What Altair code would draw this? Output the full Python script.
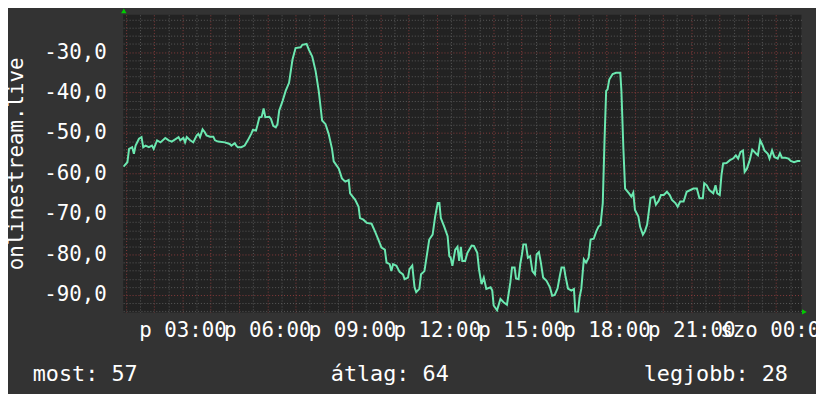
import altair as alt
import pandas as pd

# time of day in hours (Friday 00:00 = 0)
hours = [0.91, 1.05, 1.11, 1.22, 1.28, 1.34, 1.46, 1.55, 1.61, 1.69, 1.81, 1.92, 1.98, 2.10, 2.22, 2.39,
         2.51, 2.62, 2.86, 2.92, 3.03, 3.09, 3.15, 3.27, 3.38, 3.50, 3.56, 3.62, 3.71, 3.79, 3.85, 3.97,
         4.09, 4.15, 4.26, 4.50, 4.67, 4.73, 4.85, 4.90, 4.96, 5.08, 5.20, 5.31, 5.43, 5.49, 5.60, 5.66,
         5.72, 5.80, 5.87, 5.93, 6.07, 6.13, 6.21, 6.30, 6.36, 6.42, 6.54, 6.65, 6.77, 6.89, 7.00, 7.18,
         7.24, 7.39, 7.47, 7.59, 7.71, 7.82, 7.94, 8.06, 8.17, 8.29, 8.35, 8.53, 8.64, 8.76, 8.88, 8.93,
         9.11, 9.23, 9.28, 9.40, 9.52, 9.69, 9.81, 9.93, 10.04, 10.16, 10.22, 10.33, 10.39, 10.45, 10.57,
         10.68, 10.80, 10.86, 10.98, 11.03, 11.13, 11.21, 11.27, 11.38, 11.44, 11.56, 11.73, 11.85, 11.94,
         12.03, 12.09, 12.14, 12.26, 12.38, 12.44, 12.49, 12.55, 12.65, 12.73, 12.79, 12.85, 12.90, 13.00,
         13.08, 13.23, 13.31, 13.43, 13.49, 13.58, 13.66, 13.75, 13.90, 13.96, 14.01, 14.13, 14.25, 14.36,
         14.48, 14.60, 14.66, 14.75, 14.80, 14.89, 14.95, 15.01, 15.06, 15.15, 15.22, 15.30, 15.38, 15.47,
         15.53, 15.61, 15.68, 15.76, 15.88, 16.00, 16.08, 16.17, 16.27, 16.35, 16.41, 16.50, 16.55, 16.64,
         16.76, 16.85, 16.90, 16.99, 17.05, 17.11, 17.20, 17.28, 17.37, 17.44, 17.55, 17.64, 17.72, 17.79,
         17.87, 17.93, 17.99, 18.04, 18.10, 18.22, 18.34, 18.49, 18.53, 18.60, 18.66, 18.80, 18.88, 18.95,
         19.01, 19.13, 19.19, 19.29, 19.36, 19.44, 19.56, 19.68, 19.75, 19.85, 19.93, 20.03, 20.14, 20.24,
         20.32, 20.44, 20.52, 20.61, 20.73, 20.84, 21.08, 21.20, 21.29, 21.41, 21.46, 21.55, 21.64, 21.78,
         21.86, 21.92, 22.01, 22.07, 22.13, 22.25, 22.37, 22.48, 22.58, 22.66, 22.74, 22.83, 22.89, 22.97,
         23.07, 23.16, 23.30, 23.36, 23.44, 23.53, 23.59, 23.71, 23.77, 23.86, 23.94, 24.06, 24.14, 24.21,
         24.33, 24.44, 24.52, 24.64, 24.76, 24.86]

values = [-58.3, -57.2, -53.9, -53.5, -55.1, -53.1, -51.4, -51.0, -53.5, -53.1, -53.5, -53.1, -53.9, -51.8, -52.3, -51.2,
          -51.8, -52.1, -51.0, -51.8, -51.2, -52.3, -51.0, -51.8, -52.3, -50.6, -50.2, -51.0, -49.1, -49.8, -50.6, -50.9,
          -50.9, -51.8, -52.1, -52.3, -52.7, -53.1, -52.5, -53.1, -53.5, -53.5, -53.1, -51.8, -50.2, -49.2, -49.4, -47.8,
          -46.1, -46.0, -43.9, -46.1, -46.0, -46.5, -48.2, -48.6, -47.8, -44.5, -42.1, -39.6, -37.6, -31.9, -29.0, -28.8,
          -28.2, -28.0, -29.4, -31.1, -34.7, -39.6, -46.9, -47.8, -50.2, -53.9, -57.0, -58.8, -61.2, -62.0, -61.6, -64.9,
          -66.5, -68.2, -71.0, -71.4, -72.2, -72.4, -74.3, -76.3, -78.3, -78.8, -82.0, -82.4, -84.1, -82.4, -82.8,
          -84.3, -84.9, -86.1, -85.7, -83.6, -82.7, -88.1, -89.3, -88.5, -84.9, -84.1, -76.3, -75.1, -70.6,
          -67.3, -67.3, -71.0, -73.1, -75.5, -80.4, -80.8, -82.8, -78.8, -78.1, -81.6, -78.1, -81.6, -81.6,
          -79.6, -77.8, -77.9, -79.6, -83.6, -87.3, -85.7, -88.5, -88.1, -88.9, -92.6, -93.8, -91.0, -91.8,
          -92.4, -86.9, -83.2, -83.2, -85.9, -86.1, -82.4, -80.0, -77.5, -77.5, -80.8, -80.4, -84.1, -84.9,
          -80.0, -79.4, -82.0, -85.7, -86.5, -88.1, -90.2, -90.0, -88.4, -85.3, -83.2, -83.2, -85.3, -88.4,
          -88.9, -88.5, -94.2, -94.5, -90.6, -88.5, -81.2, -82.0, -80.8, -76.3, -76.1, -74.3, -73.1, -72.7,
          -67.3, -52.3, -39.6, -39.2, -36.8, -35.4, -35.1, -35.1, -39.6, -53.9, -63.7, -64.9, -65.7, -64.7,
          -69.0, -70.6, -73.1, -75.1, -74.3, -72.6, -66.1, -65.7, -67.7, -66.7, -65.3, -65.3, -64.5, -65.3,
          -66.5, -67.3, -68.2, -66.9, -66.9, -64.5, -63.7, -63.7, -66.1, -66.1, -62.4, -62.9, -64.1, -64.9,
          -62.9, -64.9, -65.3, -60.4, -57.5, -57.4, -56.7, -56.3, -55.5, -56.3, -54.7, -54.3, -59.6, -58.8,
          -56.7, -54.1, -55.1, -55.5, -51.8, -53.1, -54.3, -55.1, -56.3, -54.3, -55.9, -56.3, -55.0, -56.1,
          -56.1, -56.3, -56.9, -57.2, -56.9, -56.9]

x_domain = [0.9, 24.9]
y_domain = [-94.3, -20.8]
x_label_values = [3, 6, 9, 12, 15, 18, 21, 24]
x_major_grid = list(range(1, 25))
x_minor_grid = [h + 0.5 for h in range(0, 25)]
y_major_grid = [-90, -80, -70, -60, -50, -40, -30]
y_minor_grid = [v for v in range(-94, -20, 2) if v % 10 != 0]
y_title = "onlinestream.live"
legend_items = ["most: 57", "átlag: 64", "legjobb: 28"]

df = pd.DataFrame({"h": hours, "v": values})

FONT = "DejaVu Sans Mono"
FS = 21
LFS = 22
W, H = 685, 300.5

xs = alt.Scale(domain=x_domain, nice=False, zero=False)
ys = alt.Scale(domain=y_domain, nice=False, zero=False)


def grid_axis(vals, color, orient):
    return alt.Axis(values=vals, grid=True, gridColor=color, gridDash=[1, 2], gridWidth=1,
                    labels=False, ticks=False, domain=False, title=None, orient=orient)


base = alt.Chart(df)

minor = base.mark_line(opacity=0).encode(
    x=alt.X("h:Q", scale=xs, axis=grid_axis(x_minor_grid, "#5a5a5a", "bottom")),
    y=alt.Y("v:Q", scale=ys, axis=grid_axis(y_minor_grid, "#5a5a5a", "left")),
)

major = base.mark_line(opacity=0).encode(
    x=alt.X("h:Q", scale=xs, axis=grid_axis(x_major_grid, "#8a3c3c", "bottom")),
    y=alt.Y("v:Q", scale=ys, axis=grid_axis(y_major_grid, "#8a3c3c", "left")),
)

labels = base.mark_line(opacity=0).encode(
    x=alt.X("h:Q", scale=xs, axis=alt.Axis(
        values=x_label_values, grid=False, ticks=False, domain=False, title=None, orient="bottom",
        labelExpr="(datum.value < 24 ? 'p ' : 'szo ') + format(datum.value % 24, '02d') + ':00'",
        labelFont=FONT, labelFontSize=FS, labelColor="#ffffff", labelPadding=7,
        labelOverlap=False, labelFlush=False, labelBound=False)),
    y=alt.Y("v:Q", scale=ys, axis=alt.Axis(
        values=y_major_grid, grid=False, ticks=False, domain=False, orient="left",
        labelExpr="'-' + replace(format(abs(datum.value), '.1f'), '.', ',')",
        labelFont=FONT, labelFontSize=FS, labelColor="#ffffff", labelPadding=17,
        labelOverlap=False, labelFlush=False,
        title=y_title, titleFont=FONT, titleFontSize=FS, titleFontWeight="normal", titleColor="#ffffff",
        titleX=-102, titleY=150, titleAngle=270, titleAlign="center", titleBaseline="alphabetic")),
)

line = base.mark_line(color="#6be8b0", strokeWidth=2, clip=True).encode(
    x=alt.X("h:Q", scale=xs, axis=None),
    y=alt.Y("v:Q", scale=ys, axis=None),
)

legend_x = [-91.3, 209.7, 525.7]
texts = [
    alt.Chart(pd.DataFrame({"t": [legend_items[i]]})).mark_text(
        font=FONT, fontSize=LFS, color="#ffffff", align="left", baseline="alphabetic"
    ).encode(text="t:N", x=alt.value(legend_x[i]), y=alt.value(370))
    for i in range(3)
]

arrow_df = pd.DataFrame({"a": [0]})
arrow_up = alt.Chart(arrow_df).mark_point(shape="triangle-up", filled=True, color="#00cc00",
                                          size=30, opacity=1).encode(
    x=alt.value(0.7), y=alt.value(-4))
arrow_right = alt.Chart(arrow_df).mark_point(shape="triangle-right", filled=True, color="#00cc00",
                                             size=30, opacity=1).encode(
    x=alt.value(688), y=alt.value(300))

chart = alt.layer(minor, major, labels, line, *texts, arrow_up, arrow_right).resolve_axis(
    x="independent", y="independent"
).properties(
    width=W, height=H, autosize="none",
    padding={"left": 116.3, "top": 5, "right": 14.7, "bottom": 80},
    background="#333333",
).configure_view(fill="#222222", stroke=None)

chart.save("out.html", embed_options={"renderer": "svg", "actions": False})
